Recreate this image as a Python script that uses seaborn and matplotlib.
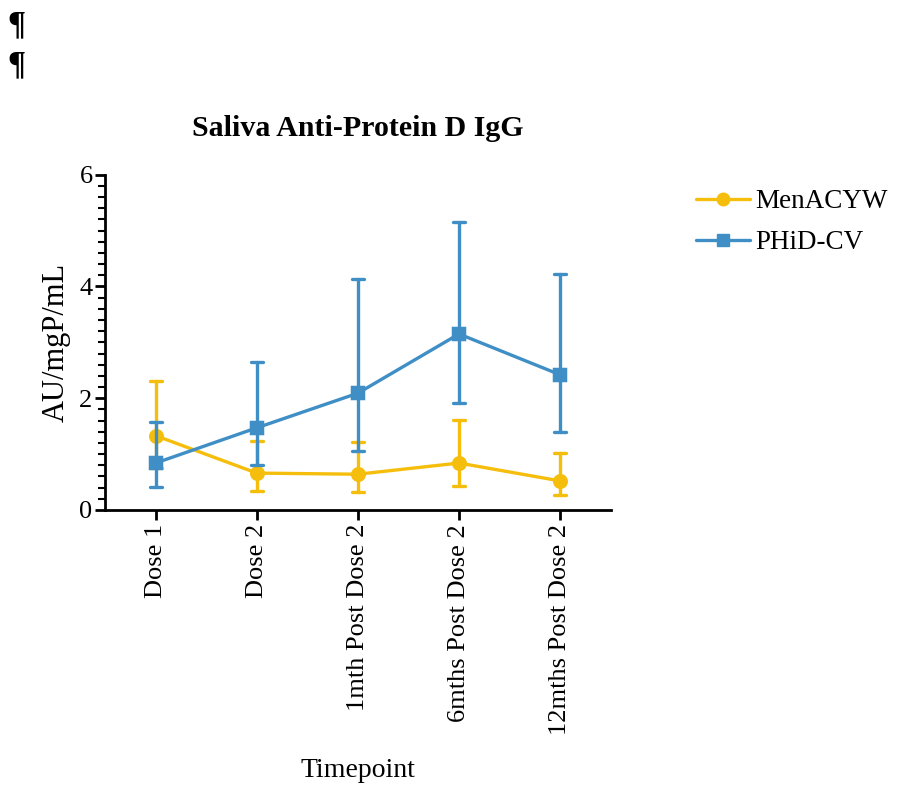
import pandas as pd
import matplotlib.pyplot as plt
import seaborn as sns
from matplotlib.ticker import MultipleLocator
from matplotlib.lines import Line2D

# Valores (média e limites das barras de erro)
timepoints = ["Dose 1", "Dose 2", "1mth Post Dose 2", "6mths Post Dose 2", "12mths Post Dose 2"]
men_mean = [1.33, 0.66, 0.64, 0.84, 0.52]
men_low = [0.75, 0.34, 0.33, 0.43, 0.27]
men_high = [2.31, 1.24, 1.22, 1.61, 1.02]
phid_mean = [0.84, 1.47, 2.09, 3.15, 2.42]
phid_low = [0.41, 0.81, 1.06, 1.92, 1.40]
phid_high = [1.58, 2.65, 4.14, 5.16, 4.23]

cor_men = "#F6BE0C"
cor_phid = "#3F8FC6"

# Tabela longa: cada grupo tem limite inferior, média e limite superior
linhas = []
for grupo, lo, me, hi in [("MenACYW", men_low, men_mean, men_high),
                          ("PHiD-CV", phid_low, phid_mean, phid_high)]:
    for t, a, b, c in zip(timepoints, lo, me, hi):
        for v in (a, b, c):
            linhas.append({"Timepoint": t, "Grupo": grupo, "valor": v})
df = pd.DataFrame(linhas)

sns.set_style("ticks")
plt.rcParams["font.family"] = ["Liberation Serif", "DejaVu Serif"]
plt.rcParams["text.color"] = "black"
plt.rcParams["axes.labelcolor"] = "black"
plt.rcParams["xtick.color"] = "black"
plt.rcParams["ytick.color"] = "black"
plt.rcParams["axes.edgecolor"] = "black"

fig = plt.figure(figsize=(8.98, 7.87), dpi=100)
ax = fig.add_axes([0.117, 0.352, 0.563, 0.426])

sns.pointplot(data=df, x="Timepoint", y="valor", hue="Grupo",
              order=timepoints, hue_order=["MenACYW", "PHiD-CV"],
              palette=[cor_men, cor_phid], markers=["o", "s"],
              estimator="median", errorbar=lambda v: (v.min(), v.max()),
              capsize=0.12, dodge=False, linewidth=2.4, markersize=9,
              err_kws={"linewidth": 2.4}, ax=ax)

ax.set_xlim(-0.5, 4.5)
ax.set_ylim(0, 6)
ax.yaxis.set_major_locator(MultipleLocator(2))
ax.yaxis.set_minor_locator(MultipleLocator(0.2))
ax.tick_params(axis="y", which="major", length=7, width=2, labelsize=19, pad=2)
ax.tick_params(axis="y", which="minor", length=5, width=1.5)
ax.tick_params(axis="x", length=7, width=2, labelsize=19, pad=3)
plt.setp(ax.get_xticklabels(), rotation=90)
for s in ["left", "bottom"]:
    ax.spines[s].set_linewidth(2)
sns.despine(ax=ax)

ax.set_xlabel("Timepoint", fontsize=20, va="center")
ax.xaxis.set_label_coords(0.5, -0.776)
ax.set_ylabel("AU/mgP/mL", fontsize=22, labelpad=6)
ax.set_title("Saliva Anti-Protein D IgG", fontsize=21.5, fontweight="bold", pad=28)

handles = [Line2D([], [], color=cor_men, marker="o", lw=2.4, ms=9),
           Line2D([], [], color=cor_phid, marker="s", lw=2.4, ms=9)]
ax.legend(handles, ["MenACYW", "PHiD-CV"], loc="upper left",
          bbox_to_anchor=(1.12, 1.03), frameon=False, fontsize=19.5,
          handlelength=2.0, handletextpad=0.2, labelspacing=0.6)

# Marcas de parágrafo do documento original
fig.text(0.008, 0.968, "¶", fontsize=24, fontweight="bold", va="center")
fig.text(0.008, 0.917, "¶", fontsize=24, fontweight="bold", va="center")

fig.savefig("out.png", dpi=100)
